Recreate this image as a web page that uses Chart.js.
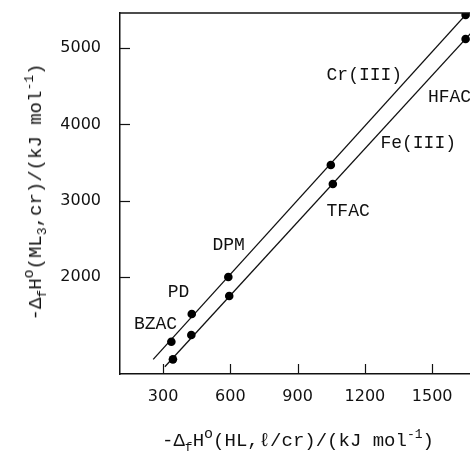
<!DOCTYPE html>
<html><head><meta charset="utf-8">
<script src="https://cdn.jsdelivr.net/npm/chart.js@4.4.1/dist/chart.umd.min.js"></script>
<style>
html,body{margin:0;padding:0;overflow:hidden;background:#fff;width:470px;height:451px}
#wrap{position:relative;width:480px;height:451px}
canvas{position:absolute;left:0;top:0}
.t{position:absolute;font-family:"Liberation Mono",monospace;font-size:19px;line-height:19px;color:#111;white-space:nowrap}
.sm{font-size:13px;position:relative}
.sup{font-size:15px;position:relative;top:-8px}
#xt{left:298px;top:432px;transform:translateX(-50%)}
#yt{left:37px;top:192px;transform:translate(-50%,-50%) rotate(-90deg)}
</style></head><body>
<div id="wrap">
<canvas id="c" width="480" height="451"></canvas>
<div class="t" id="xt">-Δ<span class="sm" style="top:5px">f</span>H<span class="sup">o</span>(HL,ℓ/cr)/(kJ mol<span class="sm" style="top:-8px">-1</span>)</div>
<div class="t" id="yt">-Δ<span class="sm" style="top:5px">f</span>H<span class="sup">o</span>(ML<span class="sm" style="top:5px">3</span>,cr)/(kJ mol<span class="sm" style="top:-8px">-1</span>)</div>
</div>
<script>
// Data
const ligands = ['BZAC','PD','DPM','TFAC','HFAC'];
const crX = [337, 428, 591, 1048, 1649];
const crY = [1152, 1515, 2000, 3468, 5434];
const feX = [344, 426, 595, 1057, 1649];
const feY = [921, 1240, 1751, 3219, 5119];
// fitted straight lines (end points)
const crFitX = [256, 1680];
const crFitY = [921, 5535];
const feFitX = [308, 1694];
const feFitY = [824, 5263];
// axis ticks
const xTicks = [300, 600, 900, 1200, 1500];
const yTicks = [2000, 3000, 4000, 5000];
// annotation labels (data coordinates, left-anchored)
const labelText = ['Cr(III)', 'HFAC', 'Fe(III)', 'TFAC', 'DPM', 'PD', 'BZAC'];
const labelX = [1029, 1481, 1269, 1029, 520, 321, 170];
const labelY = [4647, 4359, 3756, 2865, 2419, 1803, 1384];

const pts = (xs, ys) => xs.map((x, i) => ({x: x, y: ys[i]}));
const INK = '#111';

const deco = {
  id: 'deco',
  afterDraw(chart) {
    const {ctx, chartArea: a, scales: {x, y}} = chart;
    ctx.save();
    ctx.strokeStyle = INK;
    ctx.lineWidth = 1.5;
    ctx.beginPath(); ctx.moveTo(a.left, a.top); ctx.lineTo(a.right + 5, a.top); ctx.stroke();
    ctx.lineWidth = 1.2;
    x.ticks.forEach(t => {
      const p = Math.round(x.getPixelForValue(t.value)) + 0.5;
      ctx.beginPath(); ctx.moveTo(p, a.bottom); ctx.lineTo(p, a.bottom - 10); ctx.stroke();
    });
    y.ticks.forEach(t => {
      const p = Math.round(y.getPixelForValue(t.value)) + 0.5;
      ctx.beginPath(); ctx.moveTo(a.left, p); ctx.lineTo(a.left + 10, p); ctx.stroke();
    });
    ctx.fillStyle = INK;
    ctx.font = '18px "Liberation Mono", monospace';
    ctx.textBaseline = 'middle';
    ctx.textAlign = 'left';
    labelText.forEach((s, i) => ctx.fillText(s, x.getPixelForValue(labelX[i]), y.getPixelForValue(labelY[i])));
    ctx.restore();
  }
};

new Chart(document.getElementById('c'), {
  type: 'scatter',
  data: {
    datasets: [
      {label: 'Cr(III)', data: pts(crX, crY), showLine: false, pointRadius: 4.3, backgroundColor: '#000', borderWidth: 0},
      {label: 'Fe(III)', data: pts(feX, feY), showLine: false, pointRadius: 4.3, backgroundColor: '#000', borderWidth: 0},
      {label: 'Cr fit', data: pts(crFitX, crFitY), showLine: true, pointRadius: 0, borderColor: INK, borderWidth: 1.3, fill: false},
      {label: 'Fe fit', data: pts(feFitX, feFitY), showLine: true, pointRadius: 0, borderColor: INK, borderWidth: 1.3, fill: false}
    ]
  },
  options: {
    responsive: false,
    animation: false,
    devicePixelRatio: 1,
    layout: {padding: {top: 13, right: 2, left: 0, bottom: 0}},
    plugins: {legend: {display: false}, tooltip: {enabled: false}},
    scales: {
      x: {
        type: 'linear', min: 108, max: 1694,
        afterBuildTicks: s => { s.ticks = xTicks.map(v => ({value: v})); },
        afterFit: s => { s.height = 77; s.paddingLeft = 0; s.paddingRight = 0; },
        grid: {display: false, drawTicks: false, tickLength: 0},
        border: {display: true, color: INK, width: 1.5},
        ticks: {color: INK, padding: 13, font: {family: '"DejaVu Sans", sans-serif', size: 16}, maxRotation: 0, autoSkip: false, callback: v => String(v)}
      },
      y: {
        type: 'linear', min: 729, max: 5459,
        afterBuildTicks: s => { s.ticks = yTicks.map(v => ({value: v})); },
        afterFit: s => { s.width = 120; s.paddingTop = 0; s.paddingBottom = 0; },
        grid: {display: false, drawTicks: false, tickLength: 0},
        border: {display: true, color: INK, width: 1.5},
        ticks: {color: INK, padding: 19, font: {family: '"DejaVu Sans", sans-serif', size: 16}, autoSkip: false, callback: v => String(v)}
      }
    }
  },
  plugins: [deco]
});
</script>
</body></html>
